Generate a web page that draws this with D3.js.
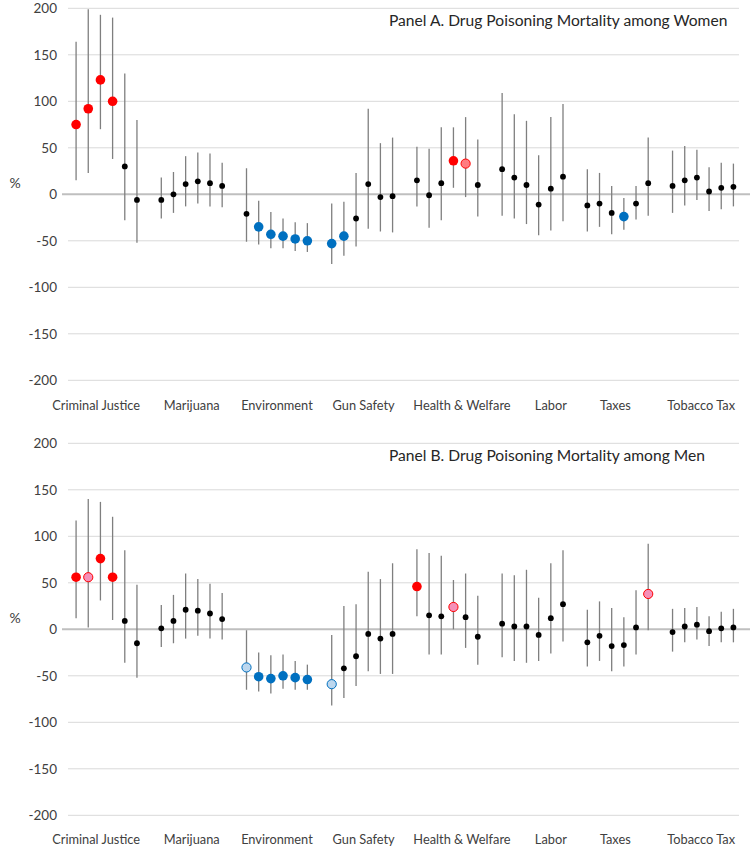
<!DOCTYPE html>
<html>
<head>
<meta charset="utf-8">
<script src="https://cdn.jsdelivr.net/npm/d3@7/dist/d3.min.js"></script>
<style>
  html, body { margin: 0; padding: 0; background: #fff; }
  svg { display: block; font-family: Lato, "Open Sans", sans-serif; }
</style>
</head>
<body>
<svg id="chart" width="750" height="856"></svg>
<script>
// ---------------- DATA ----------------
const categories = ["Criminal Justice", "Marijuana", "Environment", "Gun Safety",
                    "Health & Welfare", "Labor", "Taxes", "Tobacco Tax"];
const perCategory = 6;
const yTicks = [200, 150, 100, 50, 0, -50, -100, -150, -200];

const panelTitles = ["Panel A. Drug Poisoning Mortality among Women",
                     "Panel B. Drug Poisoning Mortality among Men"];

// Panel A (women): point estimate, lower and upper bound (%)
const womenEst = [75, 92, 123, 100, 30, -6,   -6, 0, 11, 14, 12, 9,
                  -21, -35, -43, -45, -48, -50,   -53, -45, -26, 11, -3, -2,
                  15, -1, 12, 36, 33, 10,   27, 18, 10, -11, 6, 19,
                  -12, -10, -20, -24, -10, 12,   9, 15, 18, 3, 7, 8];
const womenLo  = [15, 23, 70, 38, -28, -52,   -26, -20, -13, -10, -13, -14,
                  -51, -54, -58, -58, -61, -62,   -75, -66, -56, -37, -40, -41,
                  -13, -36, -28, 7, -3, -24,   -23, -26, -32, -44, -39, -29,
                  -40, -35, -43, -38, -27, -23,   -20, -12, -6, -18, -16, -13];
const womenHi  = [164, 199, 193, 190, 130, 80,   18, 24, 41, 45, 44, 34,
                  28, -7, -19, -26, -30, -31,   -10, -8, 23, 92, 55, 61,
                  51, 49, 72, 72, 83, 59,   109, 86, 79, 42, 83, 97,
                  27, 23, 9, -4, 9, 61,   47, 52, 48, 29, 34, 33];
// significance class: n = none, r = sig. increase, rl = marginal increase,
// b = sig. decrease, bl = marginal decrease
const womenSig = ["r","r","r","r","n","n",   "n","n","n","n","n","n",
                  "n","b","b","b","b","b",   "b","b","n","n","n","n",
                  "n","n","n","r","rl","n",   "n","n","n","n","n","n",
                  "n","n","n","b","n","n",   "n","n","n","n","n","n"];

// Panel B (men)
const menEst = [56, 56, 76, 56, 9, -15,   1, 9, 21, 20, 17, 11,
                -41, -51, -53, -50, -52, -54,   -59, -42, -29, -5, -10, -5,
                46, 15, 14, 24, 13, -8,   6, 3, 3, -6, 12, 27,
                -14, -7, -18, -17, 2, 38,   -3, 3, 5, -2, 1, 2];
const menLo  = [12, 2, 31, 10, -36, -52,   -19, -15, -10, -7, -10, -11,
                -65, -67, -69, -64, -65, -65,   -82, -74, -61, -45, -48, -48,
                14, -27, -27, 0, -20, -38,   -30, -34, -36, -34, -26, -13,
                -40, -34, -45, -40, -27, -1,   -24, -14, -11, -18, -14, -14];
const menHi  = [117, 140, 137, 121, 85, 48,   26, 37, 60, 54, 49, 39,
                -1, -25, -28, -27, -34, -38,   -6, 25, 27, 62, 54, 71,
                86, 82, 79, 53, 60, 36,   60, 58, 64, 34, 71, 85,
                21, 30, 23, 13, 42, 92,   22, 23, 24, 14, 19, 22];
const menSig = ["r","pk","r","r","n","n",   "n","n","n","n","n","n",
                "bl","b","b","b","b","b",   "bl","n","n","n","n","n",
                "r","n","n","pk","n","n",   "n","n","n","n","n","n",
                "n","n","n","n","n","pk",   "n","n","n","n","n","n"];

// ---------------- STYLE / LAYOUT ----------------
const styles = {
  n:  { r: 2.9, fill: "#000000", stroke: "none" },
  r:  { r: 4.8, fill: "#FF0000", stroke: "none" },
  rl: { r: 4.6, fill: "#FF7C80", stroke: "#FF0000" },
  pk: { r: 4.6, fill: "#F590B8", stroke: "#FF0000" },
  b:  { r: 4.8, fill: "#0070C0", stroke: "none" },
  bl: { r: 4.6, fill: "#BDD7EE", stroke: "#0070C0" }
};
// horizontal nudge of category labels (in slot widths)
const labelShift = [-0.85, 0, 0, 0.12, 1.2, 1.5, -0.2, -0.15];

const svg = d3.select("#chart");

// slot domain: 6 points per category with an empty slot between categories
const slots = [];
categories.forEach((c, i) => {
  for (let j = 0; j < perCategory; j++) slots.push(i + "-" + j);
  if (i < categories.length - 1) slots.push("gap" + i);
});
const xb = d3.scaleBand().domain(slots).range([70, 739.5]);
const xc = (i, j) => xb(i + "-" + j) + xb.bandwidth() / 2;

const panels = [
  { top: 8.3, est: womenEst, lo: womenLo, hi: womenHi, sig: womenSig, title: panelTitles[0], titleY: 25.5, labelY: 409.5 },
  { top: 443.3, est: menEst, lo: menLo, hi: menHi, sig: menSig, title: panelTitles[1], titleY: 460.5, labelY: 844 }
];

panels.forEach(p => {
  const y = d3.scaleLinear().domain([200, -200]).range([p.top, p.top + 372]);
  const g = svg.append("g");

  // gridlines
  g.append("g").selectAll("line")
    .data(yTicks.filter(t => t !== 0))
    .join("line")
    .attr("x1", 68).attr("x2", 739)
    .attr("y1", d => y(d)).attr("y2", d => y(d))
    .attr("stroke", "#D9D9D9").attr("stroke-width", 1);

  // zero line
  g.append("line")
    .attr("x1", 62).attr("x2", 750)
    .attr("y1", y(0)).attr("y2", y(0))
    .attr("stroke", "#BFBFBF").attr("stroke-width", 2);

  // y axis labels
  const ax = g.append("g")
    .attr("transform", "translate(62,0)")
    .call(d3.axisLeft(y).tickValues(yTicks).tickSize(0).tickPadding(5).tickFormat(d => String(d)));
  ax.select(".domain").remove();
  ax.selectAll("text").attr("font-size", 13.5).attr("fill", "#404040")
    .attr("font-family", "Lato, 'Open Sans', sans-serif");

  // % label
  g.append("text").attr("x", 15).attr("y", y(0) - 6)
    .attr("text-anchor", "middle").attr("font-size", 14).attr("fill", "#404040")
    .text("%");

  // title
  g.append("text").attr("x", 389).attr("y", p.titleY)
    .attr("font-size", 15.6).attr("fill", "#262626")
    .text(p.title);

  // category labels
  g.append("g").selectAll("text")
    .data(categories)
    .join("text")
    .attr("x", (d, i) => (xc(i, 0) + xc(i, perCategory - 1)) / 2 + labelShift[i] * xb.step())
    .attr("y", p.labelY)
    .attr("text-anchor", "middle")
    .attr("font-size", 12.8).attr("fill", "#404040")
    .text(d => d);

  // points data
  const pts = p.est.map((v, k) => ({
    v, lo: p.lo[k], hi: p.hi[k], s: p.sig[k],
    x: xc(Math.floor(k / perCategory), k % perCategory)
  }));

  // CI lines
  g.append("g").selectAll("line")
    .data(pts)
    .join("line")
    .attr("x1", d => d.x).attr("x2", d => d.x)
    .attr("y1", d => y(d.hi)).attr("y2", d => y(d.lo))
    .attr("stroke", "#7F7F7F").attr("stroke-width", 1.3);

  // estimates
  g.append("g").selectAll("circle")
    .data(pts)
    .join("circle")
    .attr("cx", d => d.x).attr("cy", d => y(d.v))
    .attr("r", d => styles[d.s].r)
    .attr("fill", d => styles[d.s].fill)
    .attr("stroke", d => styles[d.s].stroke)
    .attr("stroke-width", 1);
});
</script>
</body>
</html>
